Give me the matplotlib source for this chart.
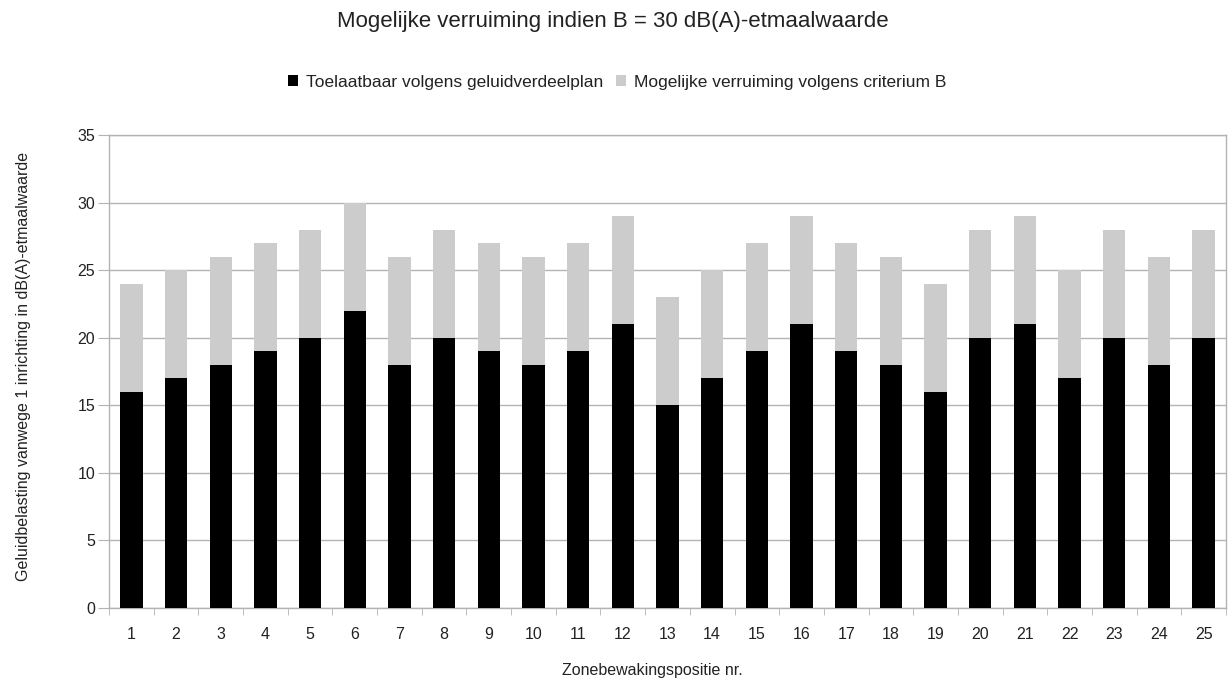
import matplotlib
matplotlib.use("Agg")
import matplotlib.pyplot as plt
import numpy as np

plt.rcParams['font.family'] = ['Liberation Sans', 'DejaVu Sans']

categories = [str(i) for i in range(1, 26)]
toelaatbaar = [16, 17, 18, 19, 20, 22, 18, 20, 19, 18, 19, 21, 15, 17, 19, 21, 19, 18, 16, 20, 21, 17, 20, 18, 20]
verruiming = [8] * 25

W, H = 1229, 679
fig = plt.figure(figsize=(W / 100, H / 100), dpi=100)
ax = fig.add_axes([109 / W, 1 - 608 / H, (1226 - 109) / W, (608 - 135) / H])

x = np.arange(len(categories))
ax.bar(x, toelaatbaar, width=0.5, color='#000000', label='Toelaatbaar volgens geluidverdeelplan', zorder=3)
ax.bar(x, verruiming, width=0.5, bottom=toelaatbaar, color='#cccccc',
       label='Mogelijke verruiming volgens criterium B', zorder=3)

ax.set_xlim(-0.5, len(categories) - 0.5)
ax.set_ylim(0, 35)
ax.set_yticks(range(0, 36, 5))
ax.set_xticks(x)
ax.set_xticklabels(categories)
ax.set_xticks(np.arange(-0.5, len(categories), 1.0), minor=True)
ax.tick_params(axis='x', which='major', length=0, pad=14, labelsize=11.5, labelcolor='#222222')
ax.tick_params(axis='x', which='minor', length=5, color='#b3b3b3', direction='out')
ax.tick_params(axis='y', length=8, color='#b3b3b3', labelsize=11.5, labelcolor='#222222', pad=2)

ax.grid(axis='y', color='#b3b3b3', linewidth=1, zorder=0)
for s in ax.spines.values():
    s.set_color('#b3b3b3')
    s.set_linewidth(1)

fig.text(613 / W, 1 - 22 / H, 'Mogelijke verruiming indien B = 30 dB(A)-etmaalwaarde',
         ha='center', va='center', fontsize=16, color='#222222')
fig.text(652 / W, 1 - 670 / H, 'Zonebewakingspositie nr.', ha='center', va='center',
         fontsize=11.5, color='#222222')
fig.text(24 / W, 1 - 366 / H, 'Geluidbelasting vanwege 1 inrichting in dB(A)-etmaalwaarde',
         ha='center', va='center', rotation=90, fontsize=11.5, color='#222222')

leg = fig.legend(loc='center', bbox_to_anchor=(617 / W, 1 - 82 / H), ncol=2, frameon=False,
                 fontsize=12.5, handlelength=0.6, handleheight=0.6, handletextpad=0.45,
                 columnspacing=0.7, borderaxespad=0, borderpad=0)
for t in leg.get_texts():
    t.set_color('#222222')

fig.savefig('out.png', dpi=100)
